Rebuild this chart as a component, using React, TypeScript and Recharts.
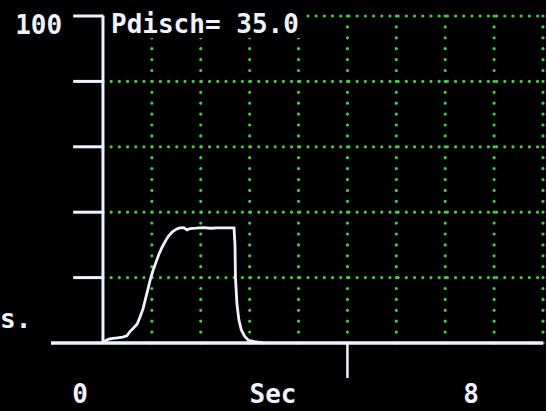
import { LineChart, Line, XAxis, YAxis, ReferenceLine, Label } from "recharts";

// trace (seconds, pressure)
const times = [0, 0.06, 0.12, 0.2, 0.3, 0.4, 0.49, 0.55, 0.62, 0.7, 0.76, 0.82, 0.87, 0.92, 0.97, 1.02, 1.08, 1.14, 1.2, 1.27, 1.34, 1.42, 1.5, 1.57, 1.65, 1.72, 1.78, 1.9, 2.05, 2.2, 2.35, 2.5, 2.68, 2.7, 2.71, 2.74, 2.78, 2.83, 2.9, 2.98, 3.1, 3.27];
const pdisch = [0, 0.8, 1.2, 1.4, 1.6, 1.8, 2.2, 3.5, 4.5, 5.8, 8, 10.5, 13.5, 16.5, 19.5, 22, 24.5, 27, 29, 31, 32.7, 34, 34.8, 35.2, 35.3, 34.6, 35, 35.1, 35.3, 35.1, 35.2, 35.2, 35.2, 30, 20, 12, 7, 4, 2, 0.8, 0.4, 0];

const yTicks = [0, 20, 40, 60, 80, 100];
const gridY = [20, 40, 60, 80, 100];
const gridX = [1, 2, 3, 4, 5, 6, 7, 8, 9];
const xTicks = [0, 5, 8];
const xLabels: Record<number, string> = { 0: "0", 8: "8" };
const title = "Pdisch= 35.0";

const data = times.map((t, i) => ({ t, p: pdisch[i] }));

const WHITE = "#eef3ff";
const GREEN = "#3fd03f";
const FONT = "'DejaVu Sans Mono', monospace";

function XTick(props: any) {
  const { x, y, payload } = props;
  const v = payload.value;
  if (v === 5) {
    return <line x1={x} y1={y} x2={x} y2={y + 35} stroke={WHITE} strokeWidth={2.5} />;
  }
  return (
    <text x={x - 23} y={y + 60} fill={WHITE} fontFamily={FONT} fontWeight="bold" fontSize={26} textAnchor="middle">
      {xLabels[v]}
    </text>
  );
}

export default function App() {
  return (
    <div style={{ position: "fixed", left: 0, top: 0, width: 546, height: 411, background: "#000", overflow: "hidden" }}>
      <LineChart width={546} height={411} data={data} margin={{ top: 16, right: 3, left: 51, bottom: 0 }}>
        <XAxis
          dataKey="t"
          type="number"
          domain={[-1.063, 9]}
          ticks={xTicks}
          tickLine={false}
          tickSize={0}
          tickMargin={0}
          tick={<XTick />}
          height={68}
          axisLine={{ stroke: WHITE, strokeWidth: 3.5 }}
        >
          <Label value="Sec" position="insideBottom" offset={2} dx={-24} dy={-6} fill={WHITE} fontFamily={FONT} fontWeight="bold" fontSize={26} />
        </XAxis>
        <YAxis hide domain={[0, 100]} ticks={yTicks} />
        {gridY.map((v) => (
          <ReferenceLine key={"gy" + v} segment={[{ x: 0, y: v }, { x: 9, y: v }]} stroke={GREEN} strokeWidth={3.2} strokeDasharray="0 8.2" strokeLinecap="round" />
        ))}
        {gridX.map((v) => (
          <ReferenceLine key={"gx" + v} segment={[{ x: v, y: 0 }, { x: v, y: 100 }]} stroke={GREEN} strokeWidth={3.2} strokeDasharray="0 10.9" strokeLinecap="round" />
        ))}
        <ReferenceLine segment={[{ x: 0, y: 0 }, { x: 0, y: 100 }]} stroke={WHITE} strokeWidth={3} />
        {yTicks.slice(1).map((v) => (
          <ReferenceLine key={"yt" + v} segment={[{ x: -0.61, y: v }, { x: 0, y: v }]} stroke={WHITE} strokeWidth={3}>
            {v === 100 ? <Label value="100" position="left" offset={11} dy={9} fill={WHITE} fontFamily={FONT} fontWeight="bold" fontSize={26} /> : null}
          </ReferenceLine>
        ))}
        <Line dataKey="p" type="linear" stroke={WHITE} strokeWidth={2.8} dot={false} isAnimationActive={false} />
      </LineChart>
      <svg width={546} height={411} style={{ position: "absolute", left: 0, top: 0, pointerEvents: "none" }}>
        <rect x={108} y={4} width={198} height={34} fill="#000" />
        <text x={111} y={33} fill={WHITE} fontFamily={FONT} fontWeight="bold" fontSize={26}>{title}</text>
        <text x={0} y={328} fill={WHITE} fontFamily={FONT} fontWeight="bold" fontSize={26}>s.</text>
      </svg>
    </div>
  );
}
